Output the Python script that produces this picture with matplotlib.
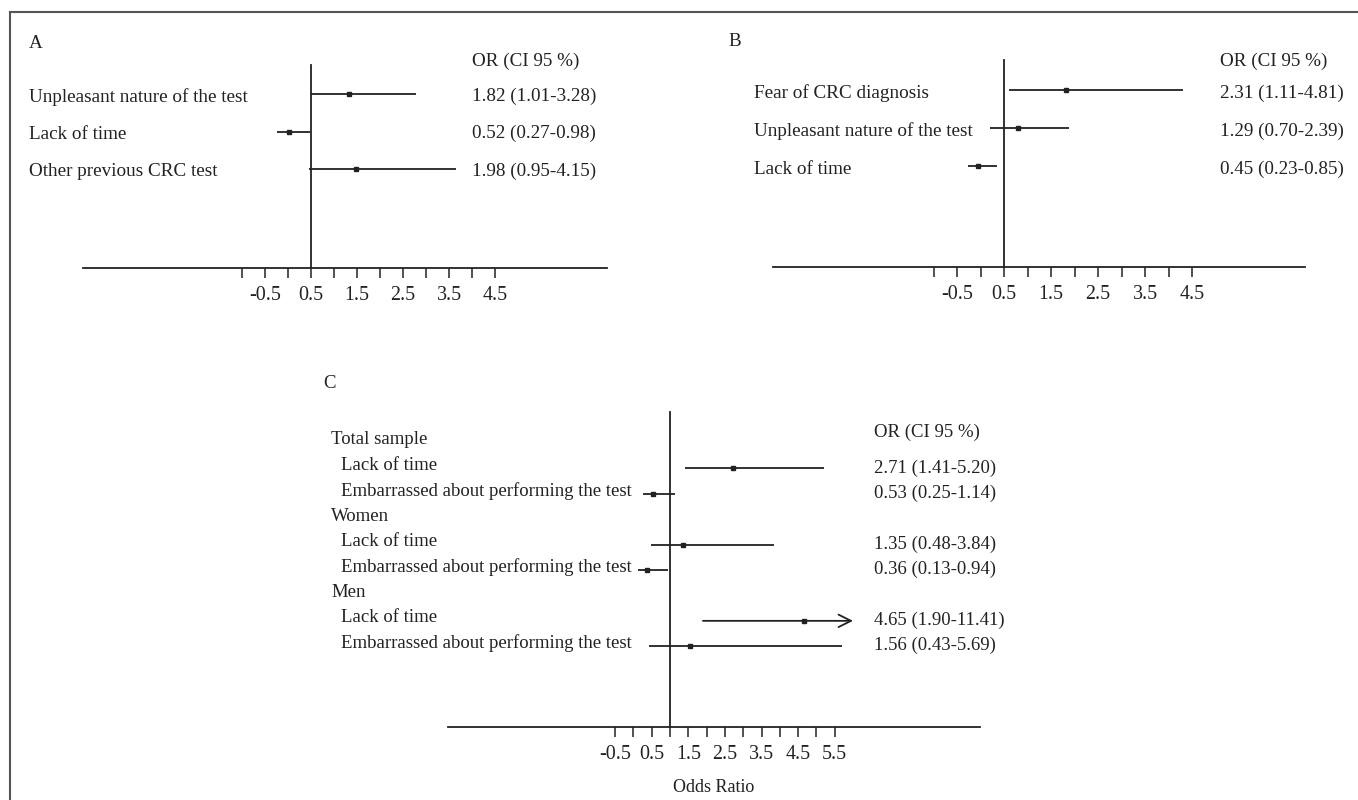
import matplotlib
matplotlib.use("Agg")
import matplotlib.pyplot as plt
from matplotlib.lines import Line2D
from matplotlib.transforms import blended_transform_factory

plt.rcParams['font.family'] = ['Liberation Serif', 'DejaVu Serif']

# ---------------- data ----------------
a_labels = ["Unpleasant nature of the test", "Lack of time", "Other previous CRC test"]
a_or = [1.82, 0.52, 1.98]
a_lo = [1.01, 0.27, 0.95]
a_hi = [3.28, 0.98, 4.15]

b_labels = ["Fear of CRC diagnosis", "Unpleasant nature of the test", "Lack of time"]
b_or = [2.31, 1.29, 0.45]
b_lo = [1.11, 0.70, 0.23]
b_hi = [4.81, 2.39, 0.85]

c_groups = ["Total sample", "Women", "Men"]
c_items = ["Lack of time", "Embarrassed about performing the test"]
c_or = [2.71, 0.53, 1.35, 0.36, 4.65, 1.56]
c_lo = [1.41, 0.25, 0.48, 0.13, 1.90, 0.43]
c_hi = [5.20, 1.14, 3.84, 0.94, 11.41, 5.69]

ab_ticks = [-0.5, 0, 0.5, 1, 1.5, 2, 2.5, 3, 3.5, 4, 4.5, 5]
ab_label_pos = [0, 1, 2, 3, 4, 5]
ab_label_txt = ["-0.5", "0.5", "1.5", "2.5", "3.5", "4.5"]
c_ticks = [-0.5, 0, 0.5, 1, 1.5, 2, 2.5, 3, 3.5, 4, 4.5, 5, 5.5]
c_label_pos = [-0.5, 0.5, 1.5, 2.5, 3.5, 4.5, 5.5]
c_label_txt = ["-0.5", "0.5", "1.5", "2.5", "3.5", "4.5", "5.5"]

header = "OR (CI 95 %)"
c_xlabel = "Odds Ratio"
c_arrow_cap = 6.0   # display limit for truncated CI

# ---------------- figure ----------------
W, H = 1358, 800
fig = plt.figure(figsize=(W / 100, H / 100), dpi=100)
INK = "#222222"
LW = 1.3
FS = 13.8
FSC = 13.5

def px_axes(left, right, top, bottom):
    return fig.add_axes([left / W, 1 - bottom / H, (right - left) / W, (bottom - top) / H])

def fmt(o, l, h):
    return f"{o:.2f} ({l:.2f}-{h:.2f})"

def style_axis(ax, ticks, lpos, ltxt):
    for s in ["top", "right", "left"]:
        ax.spines[s].set_visible(False)
    ax.spines["bottom"].set_color(INK)
    ax.spines["bottom"].set_linewidth(LW)
    ax.set_yticks([])
    ax.set_xticks(lpos)
    ax.set_xticklabels(ltxt)
    ax.set_xticks([t for t in ticks if t not in lpos], minor=True)
    ax.tick_params(axis="x", which="both", direction="out", length=7, width=1.1,
                   color=INK, labelsize=FS + 0.6, pad=6, labelcolor=INK)
    ax.patch.set_visible(False)

def forest(ax, rows, ors, los, his, cap=None):
    for y, o, l, h in zip(rows, ors, los, his):
        if cap is not None and h > cap:
            ax.annotate("", xy=(cap, y), xytext=(l, y),
                        arrowprops=dict(arrowstyle="->,head_length=0.9,head_width=0.45",
                                        color=INK, lw=LW, shrinkA=0, shrinkB=0))
        else:
            ax.plot([l, h], [y, y], color=INK, lw=LW, solid_capstyle="butt")
        ax.plot([o], [y], marker="s", ms=2.2, color=INK, mec=INK)

# ---------- Panel A ----------
axA = px_axes(83, 607, 50, 268)
axA.set_xlim(1 - (311 - 83) / 46, 1 + (607 - 311) / 46)
axA.set_ylim((268 - 94) / 37.5, (50 - 94) / 37.5)
style_axis(axA, ab_ticks, ab_label_pos, ab_label_txt)
axA.plot([1, 1], [(65 - 94) / 37.5, (268 - 94) / 37.5], color=INK, lw=LW)
rowsA = list(range(len(a_labels)))
forest(axA, rowsA, a_or, a_lo, a_hi)
trA = blended_transform_factory(fig.transFigure, axA.transData)
for y, lab, o, l, h in zip(rowsA, a_labels, a_or, a_lo, a_hi):
    axA.text(29 / W, y + 0.07, lab, transform=trA, fontsize=FS, va="center", ha="left", color=INK)
    axA.text(472 / W, y + 0.05, fmt(o, l, h), transform=trA, fontsize=FS, va="center", ha="left", color=INK)
axA.text(472 / W, (61 - 94) / 37.5, header, transform=trA, fontsize=FS, va="center", ha="left", color=INK)
fig.text(29 / W, 1 - 43 / H, "A", fontsize=FS, va="center", ha="left", color=INK)

# ---------- Panel B ----------
axB = px_axes(773, 1305, 45, 267)
axB.set_xlim(1 - (1004 - 773) / 47, 1 + (1305 - 1004) / 47)
axB.set_ylim((267 - 90) / 38, (45 - 90) / 38)
style_axis(axB, ab_ticks, ab_label_pos, ab_label_txt)
axB.plot([1, 1], [(60 - 90) / 38, (267 - 90) / 38], color=INK, lw=LW)
rowsB = list(range(len(b_labels)))
forest(axB, rowsB, b_or, b_lo, b_hi)
trB = blended_transform_factory(fig.transFigure, axB.transData)
for y, lab, o, l, h in zip(rowsB, b_labels, b_or, b_lo, b_hi):
    axB.text(754 / W, y + 0.08, lab, transform=trB, fontsize=FS, va="center", ha="left", color=INK)
    axB.text(1220 / W, y + 0.08, fmt(o, l, h), transform=trB, fontsize=FS, va="center", ha="left", color=INK)
axB.text(1220 / W, (61 - 90) / 38, header, transform=trB, fontsize=FS, va="center", ha="left", color=INK)
fig.text(728 / W, 1 - 42 / H, "B", fontsize=FS, va="center", ha="left", color=INK)

# ---------- Panel C ----------
sp = 25.4
axC = px_axes(448, 980, 400, 727)
axC.set_xlim(1 - (670 - 448) / 36.6, 1 + (980 - 670) / 36.6)
axC.set_ylim((727 - 440) / sp, (400 - 440) / sp)
style_axis(axC, c_ticks, c_label_pos, c_label_txt)
axC.plot([1, 1], [(412 - 440) / sp, (727 - 440) / sp], color=INK, lw=LW)
trC = blended_transform_factory(fig.transFigure, axC.transData)
item_rows = []
r = 0
for g in c_groups:
    axC.text(331 / W, r, g, transform=trC, fontsize=FSC, va="center", ha="left", color=INK)
    r += 1
    for it in c_items:
        axC.text(341 / W, r, it, transform=trC, fontsize=FSC, va="center", ha="left", color=INK)
        item_rows.append(r)
        r += 1
line_rows = [y + 0.12 for y in item_rows]
forest(axC, line_rows, c_or, c_lo, c_hi, cap=c_arrow_cap)
for y, o, l, h in zip(item_rows, c_or, c_lo, c_hi):
    axC.text(874 / W, y + 0.1, fmt(o, l, h), transform=trC, fontsize=FSC, va="center", ha="left", color=INK)
axC.text(874 / W, (432 - 440) / sp, header, transform=trC, fontsize=FSC, va="center", ha="left", color=INK)
axC.set_xlabel(c_xlabel, fontsize=FSC - 0.5, color=INK, labelpad=11)
fig.text(323 / W, 1 - 383 / H, "C", fontsize=FSC, va="center", ha="left", color=INK)

# ---------- frame ----------
fig.add_artist(Line2D([10 / W, 10 / W], [0, 1 - 12 / H], transform=fig.transFigure, color="#555555", lw=1.5))
fig.add_artist(Line2D([10 / W, 1], [1 - 12 / H, 1 - 12 / H], transform=fig.transFigure, color="#555555", lw=1.5))

fig.savefig("out.png", dpi=100)
